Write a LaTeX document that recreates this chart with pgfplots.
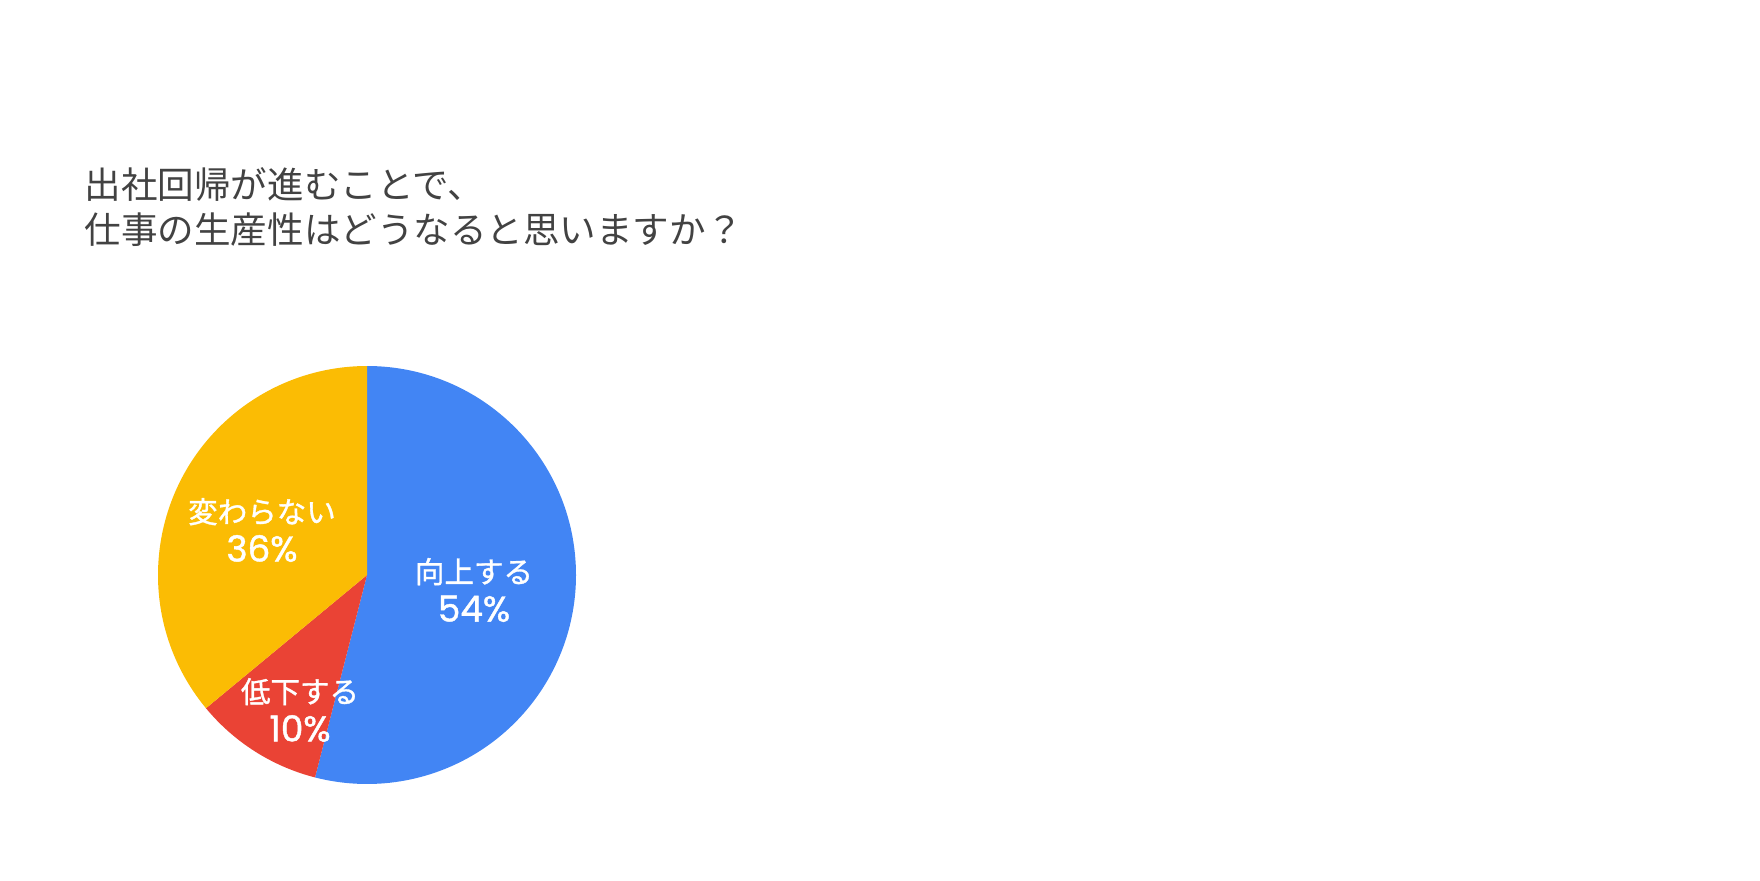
\documentclass[border=0pt]{standalone}
\usepackage{pgfplots}
\usepackage{pgfplotstable}
\pgfplotsset{compat=1.18}
\usepackage{fontspec}
\setmainfont{Noto Sans CJK JP}
\newfontfamily\labfont{Noto Sans CJK JP}[FakeBold=1.2]
\newfontfamily\numfont{Poppins}[FakeBold=1.2]
\definecolor{pieblue}{HTML}{4285F4}
\definecolor{piered}{HTML}{EA4335}
\definecolor{pieyellow}{HTML}{FBBC04}
\definecolor{titlegray}{HTML}{424242}

% slices, clockwise from 12 o'clock; lx,ly = label centre in px
\pgfplotstableread[col sep=comma]{
label,value,color,lx,ly
向上する,54,pieblue,474,290
低下する,10,piered,300,170
変わらない,36,pieyellow,262,350
}\piedata

\begin{document}
\begin{tikzpicture}
\begin{axis}[
    at={(0,0)}, anchor=south west,
    scale only axis, width=17.6cm, height=8.8cm,
    xmin=0, xmax=1760, ymin=0, ymax=880,
    hide axis, clip=false,
    ]
\pgfplotstablegetrowsof{\piedata}
\pgfmathtruncatemacro\nrows{\pgfplotsretval-1}
\def\cum{90}
\pgfplotsforeachungrouped \i in {0,...,\nrows}{
    \pgfplotstablegetelem{\i}{value}\of\piedata \let\v\pgfplotsretval
    \pgfplotstablegetelem{\i}{color}\of\piedata \let\c\pgfplotsretval
    \pgfplotstablegetelem{\i}{label}\of\piedata \let\lab\pgfplotsretval
    \pgfplotstablegetelem{\i}{lx}\of\piedata \let\lx\pgfplotsretval
    \pgfplotstablegetelem{\i}{ly}\of\piedata \let\ly\pgfplotsretval
    \pgfmathsetmacro\endang{\cum-3.6*\v}
    \edef\temp{\noexpand\fill[\c] (axis cs:367,305) -- ++(\cum:2.09cm)
        arc[start angle=\cum, end angle=\endang, radius=2.09cm] -- cycle;
        \noexpand\node[white, align=center, inner sep=0pt,
            font=\noexpand\labfont\noexpand\fontsize{8.4pt}{11pt}\noexpand\selectfont]
        at (axis cs:\lx,\ly) {\lab\noexpand\\{\noexpand\numfont\noexpand\fontsize{10.2pt}{11pt}\noexpand\selectfont\v\noexpand\%}};}
    \temp
    \global\let\cum\endang
}
\node[anchor=west, inner sep=0pt, titlegray, font=\fontsize{10.4pt}{12pt}\selectfont] at (axis cs:84,696) {出社回帰が進むことで、};
\node[anchor=west, inner sep=0pt, titlegray, font=\fontsize{10.4pt}{12pt}\selectfont] at (axis cs:84,650) {仕事の生産性はどうなると思いますか？};
\end{axis}
\path (0,0) rectangle (17.6cm,8.8cm);
\end{tikzpicture}
\end{document}
